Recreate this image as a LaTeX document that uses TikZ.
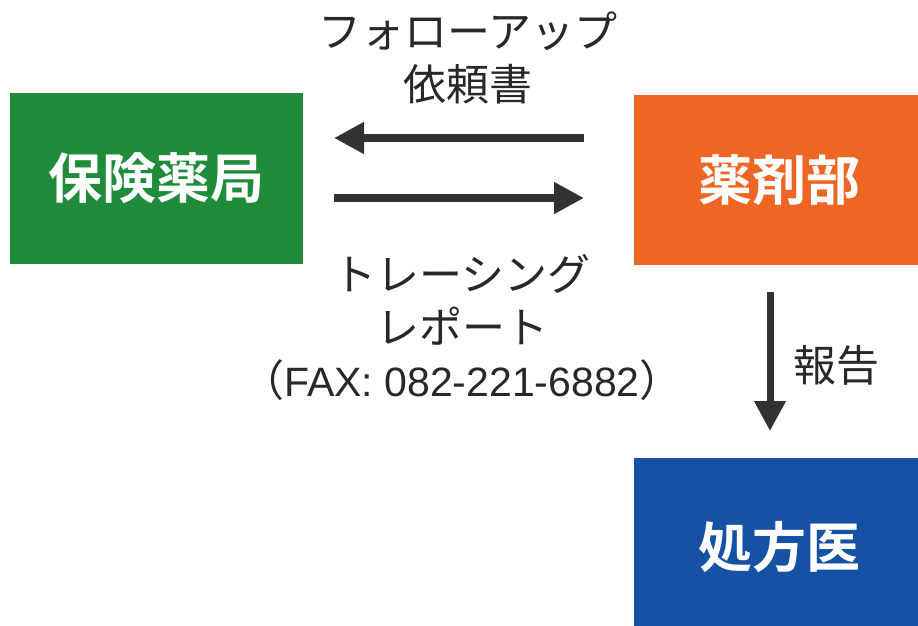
\documentclass[tikz,border=0pt]{standalone}
\usepackage{fontspec}
\newfontfamily\jp{Noto Sans CJK JP}
\newfontfamily\jpb{Noto Sans CJK JP Bold}
\newfontfamily\lat{Liberation Sans}
\usetikzlibrary{arrows.meta}
\definecolor{cgreen}{RGB}{30,140,58}
\definecolor{corange}{RGB}{238,102,36}
\definecolor{cblue}{RGB}{22,82,164}
\definecolor{carrow}{RGB}{50,50,50}
\definecolor{ctext}{RGB}{40,40,40}
\tikzset{
  box/.style={draw=none, inner sep=0pt, text=white, font=\jpb\fontsize{54}{54}\selectfont},
  lbl/.style={inner sep=0pt, text=ctext, font=\jp\fontsize{43}{53}\selectfont, align=center},
  flow/.style={draw=carrow, line width=8pt, -{Triangle[length=30pt,width=30pt]}},
}
\begin{document}
\begin{tikzpicture}[x=1pt,y=-1pt]
\useasboundingbox (0,0) rectangle (918,625);
\clip (0,0) rectangle (918,625);
\fill[white] (0,0) rectangle (918,625);
\node[box, fill=cgreen, minimum width=293pt, minimum height=171pt] (hoken) at (156.5,178.5) {保険薬局};
\node[box, fill=corange, minimum width=290pt, minimum height=170pt] (yaku) at (779,180) {薬剤部};
\node[box, fill=cblue, minimum width=290pt, minimum height=178pt] (shoho) at (779,547) {処方医};
\coordinate (a1s) at (584,138);
\coordinate (a1e) at (334,138);
\coordinate (a2s) at (334,198);
\coordinate (a2e) at (584,198);
\coordinate (a3s) at (770,292);
\coordinate (a3e) at (770,431);
\draw[flow] (a1s) -- (a1e);
\draw[flow] (a2s) -- (a2e);
\draw[flow, line width=7pt] (a3s) -- (a3e);
\node[lbl] (follow) at (468,58) {フォローアップ\\依頼書};
\node[lbl] (trace) at (462,327) {トレーシング\\レポート\\（{\lat\fontsize{41}{53}\selectfont FAX: 082-221-6882}）};
\node[lbl, anchor=west] (report) at (793,365) {報告};
\end{tikzpicture}
\end{document}
